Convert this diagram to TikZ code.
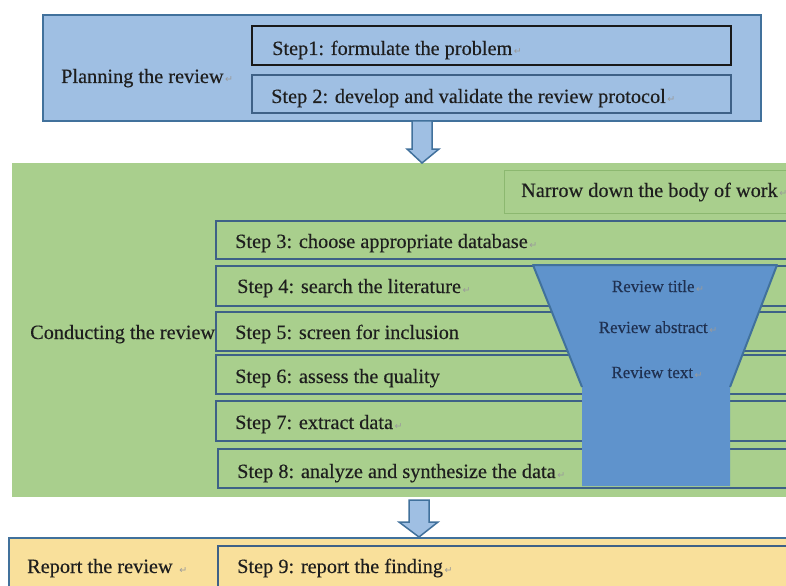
\documentclass[tikz,border=0pt]{standalone}
\usepackage{fontspec}
\setmainfont{Liberation Serif}
\newfontfamily\labelfont[FakeBold=0.3]{Liberation Serif}
\newfontfamily\markfont{DejaVu Sans}
\usetikzlibrary{calc}

\definecolor{planfill}{HTML}{9FBFE3}
\definecolor{conductfill}{HTML}{A9CF8D}
\definecolor{reportfill}{HTML}{F9E09B}
\definecolor{funnelfill}{HTML}{5F93CC}
\definecolor{edgeblue}{HTML}{41719C}
\definecolor{stepedge}{HTML}{3E6187}
\definecolor{narrowedge}{HTML}{8CB870}
\definecolor{inktext}{HTML}{1E1E1E}
\definecolor{funneltext}{HTML}{1F3050}
\definecolor{markgray}{HTML}{9A9A9A}

% paragraph mark that trails several labels
\newcommand{\parmark}{{\markfont\fontsize{9.5bp}{9.5bp}\selectfont\color{markgray}\,↵}}

\tikzset{
  panel/.style={anchor=north west, inner sep=0pt, outer sep=0pt},
  stepbox/.style={panel, draw=stepedge, line width=2bp},
  label/.style={anchor=base west, inner sep=0pt, text=inktext,
    font=\labelfont\fontsize{20.3bp}{23bp}\selectfont},
  funnellabel/.style={anchor=base, inner sep=0pt, text=funneltext,
    font=\labelfont\fontsize{17bp}{19bp}\selectfont},
  blockarrow/.style={draw=edgeblue, fill=planfill, line width=1.5bp, line join=miter},
}

\begin{document}
\begin{tikzpicture}[x=1bp, y=-1bp]
\clip (0,0) rectangle (786,586);
\fill[white] (0,0) rectangle (786,586);

% ---------- planning ----------
\node[panel, draw=edgeblue, line width=1.5bp, fill=planfill,
      minimum width=718bp, minimum height=106bp] (plan) at (43,15) {};
\node[panel, draw=black!90, line width=2.5bp,
      minimum width=479bp, minimum height=39bp] (s1) at (252,26) {};
\node[panel, draw=stepedge, line width=2bp,
      minimum width=479bp, minimum height=38bp] (s2) at (252,75) {};
\node[label] (planlbl) at (61,83) {Planning the review\parmark};
\node[label] (s1lbl) at (272,55) {Step1: formulate the problem\parmark};
\node[label] (s2lbl) at (271,103) {Step 2: develop and validate the review protocol\parmark};

% ---------- conducting ----------
\node[panel, fill=conductfill, minimum width=800bp, minimum height=334bp] (conduct) at (12,163) {};
\node[panel, draw=narrowedge, line width=1bp,
      minimum width=300bp, minimum height=42bp] (narrow) at (504,171) {};
\node[label] (narrowlbl) at (521,197) {Narrow down the body of work\parmark};

\node[stepbox, minimum width=604bp, minimum height=38bp] (s3) at (216,221) {};
\node[stepbox, minimum width=604bp, minimum height=40bp] (s4) at (216,266) {};
\node[stepbox, minimum width=604bp, minimum height=39bp] (s5) at (216,312) {};
\node[stepbox, minimum width=604bp, minimum height=39bp] (s6) at (216,355) {};
\node[stepbox, minimum width=604bp, minimum height=40bp] (s7) at (216,401) {};
\node[stepbox, minimum width=604bp, minimum height=39bp] (s8) at (218,449) {};

% funnel narrowing the body of work
\fill[funnelfill] (533,265) -- (777,265) -- (730,387) -- (730,486)
                  -- (582,486) -- (582,387) -- cycle;
\draw[edgeblue, line width=2bp, line join=round]
      (582,387) -- (533,265) -- (777,265) -- (730,387);
\node[funnellabel] (ftitle) at (658,292) {Review title\parmark};
\node[funnellabel] (fabstract) at (658,333) {Review abstract\parmark};
\node[funnellabel] (ftext) at (657,378) {Review text\parmark};

\node[label] (conductlbl) at (30,339) {Conducting the review};
\node[label] (s3lbl) at (235,248) {Step 3: choose appropriate database\parmark};
\node[label] (s4lbl) at (237,293) {Step 4: search the literature\parmark};
\node[label] (s5lbl) at (235,339) {Step 5: screen for inclusion};
\node[label] (s6lbl) at (235,383) {Step 6: assess the quality};
\node[label] (s7lbl) at (235,429) {Step 7: extract data\parmark};
\node[label] (s8lbl) at (237,478) {Step 8: analyze and synthesize the data\parmark};

% ---------- reporting ----------
\node[panel, draw=edgeblue, line width=1.5bp, fill=reportfill,
      minimum width=800bp, minimum height=60bp] (report) at (9,538) {};
\node[stepbox, minimum width=604bp, minimum height=50bp] (s9) at (218,546) {};
\node[label] (reportlbl) at (27,573) {Report the review \parmark};
\node[label] (s9lbl) at (237,573) {Step 9: report the finding\parmark};

% ---------- block arrows between the phases ----------
\coordinate (a1) at (422,0);
\draw[blockarrow]
  ($(plan.south -| a1)+(-10,0)$) -- ($(plan.south -| a1)+(-10,28)$)
  -- ($(plan.south -| a1)+(-15,28)$) -- (conduct.north -| a1)
  -- ($(plan.south -| a1)+(17,28)$) -- ($(plan.south -| a1)+(10,28)$)
  -- ($(plan.south -| a1)+(10,0)$) -- cycle;
\coordinate (a2) at (419,0);
\draw[blockarrow]
  ($(conduct.south -| a2)+(-10,3)$) -- ($(conduct.south -| a2)+(-10,25)$)
  -- ($(conduct.south -| a2)+(-20,25)$) -- ($(report.north -| a2)+(0,-1)$)
  -- ($(conduct.south -| a2)+(19,25)$) -- ($(conduct.south -| a2)+(10,25)$)
  -- ($(conduct.south -| a2)+(10,3)$) -- cycle;
\end{tikzpicture}
\end{document}
